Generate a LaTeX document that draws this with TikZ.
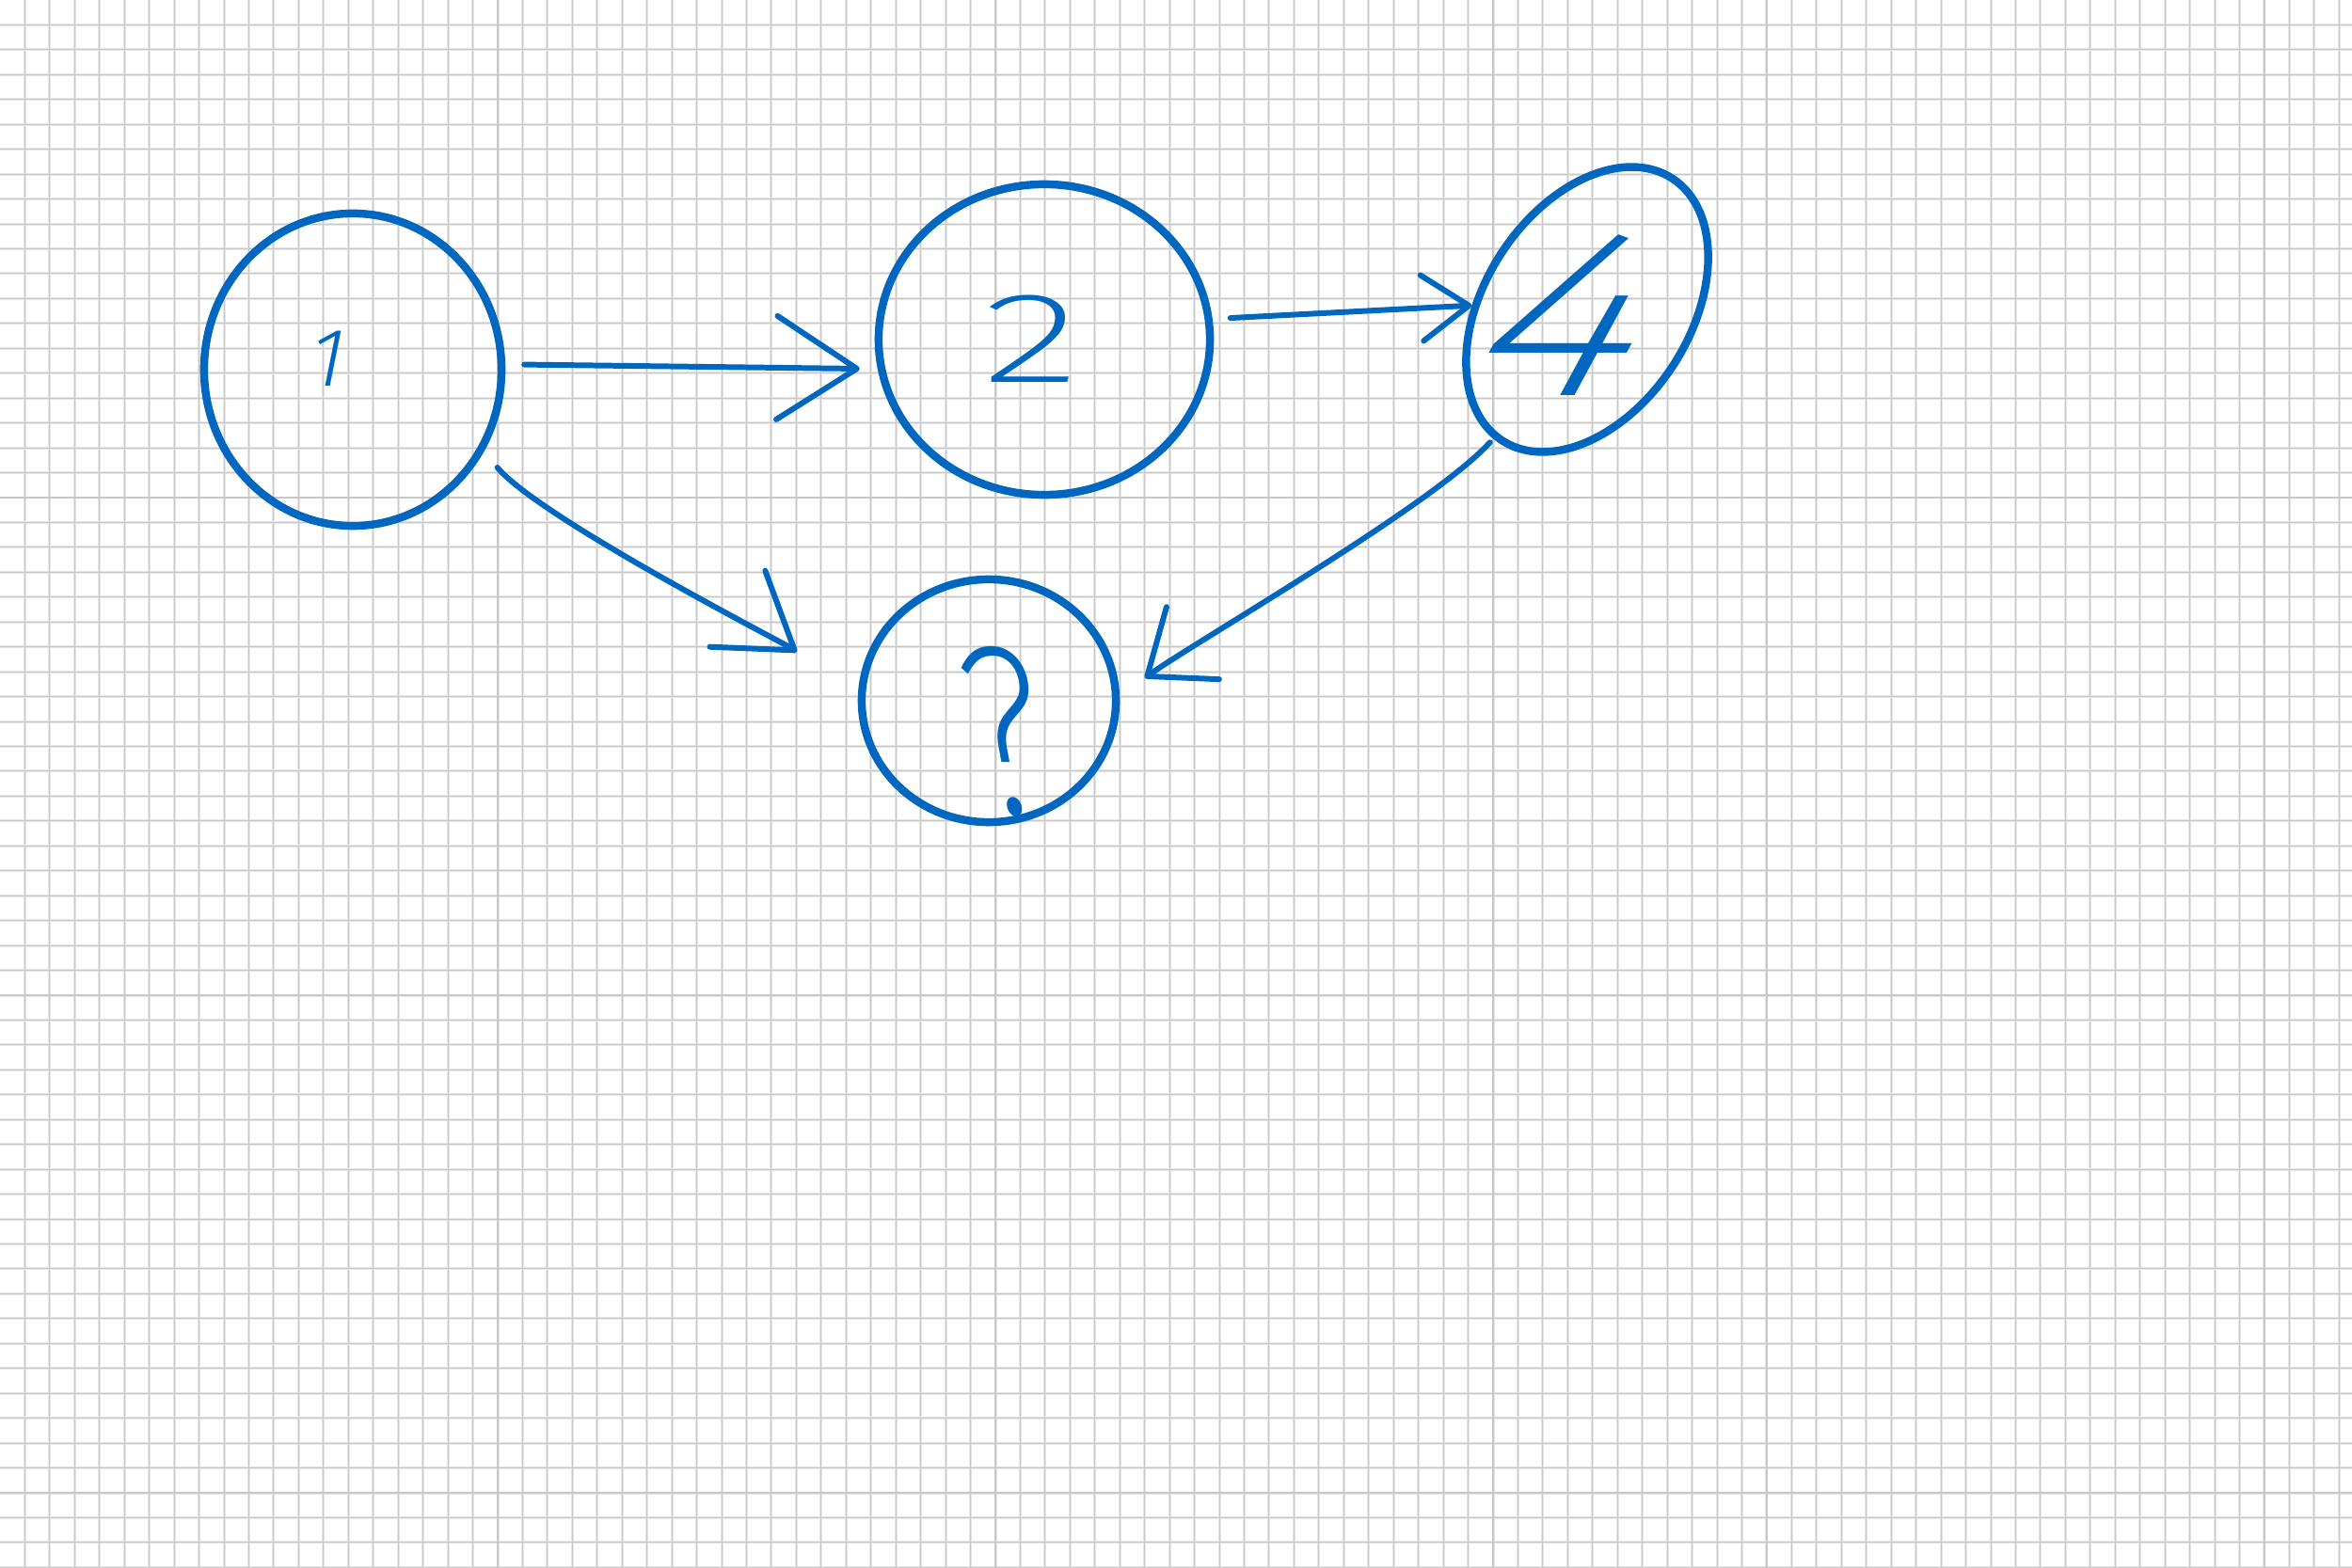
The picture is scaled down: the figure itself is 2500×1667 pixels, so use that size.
\documentclass[tikz,border=0pt]{standalone}
\usepackage{fontspec}
\newcommand\pickhand[3]{\IfFontExistsTF{#2}{\newfontfamily#1{#2}}{\IfFontExistsTF{#3}{\newfontfamily#1{#3}}{\newfontfamily#1{Liberation Sans}}}}
\pickhand\handlight{Fira Sans Light}{Lato Light}
\pickhand\handxlight{Fira Sans ExtraLight}{Fira Sans Light}
\usetikzlibrary{arrows.meta,shapes.geometric}
\definecolor{ink}{RGB}{0,103,192}
\definecolor{gridsoft}{RGB}{230,230,230}
\definecolor{gridcore}{RGB}{200,200,200}
\tikzset{
  gridhalo/.style={draw=gridsoft, line width=0.85pt},
  gridline/.style={draw=gridcore, line width=0.3pt},
  bubble/.style={ellipse, draw=ink, line width=2.4pt, inner sep=0pt},
  digit/.style={text=ink, inner sep=0pt},
  conn/.style={draw=ink, line width=1.7pt, line cap=round, line join=round},
  barbtip/.style 2 args={-{Straight Barb[length=#1,width=#2,round]}},
}
\begin{document}
\begin{tikzpicture}[x=0.01cm,y=-0.01cm]
\useasboundingbox (0,0) rectangle (2500,1667);
\fill[white] (0,0) rectangle (2500,1667);
% grid paper
\foreach \i in {1,...,94} \draw[gridhalo] ({\i*26.45},0) -- ({\i*26.45},1667);
\foreach \j in {1,...,63} \draw[gridhalo] (0,{\j*26.45}) -- (2500,{\j*26.45});
\foreach \i in {1,...,94} \draw[gridline] ({\i*26.45},0) -- ({\i*26.45},1667);
\foreach \j in {1,...,63} \draw[gridline] (0,{\j*26.45}) -- (2500,{\j*26.45});

% nodes
\node[bubble, minimum width=3.16cm, minimum height=3.32cm] (n1) at (375,393) {};
\node[bubble, minimum width=3.52cm, minimum height=3.30cm] (n2) at (1110,361) {};
\node[bubble, minimum width=3.32cm, minimum height=2.18cm, rotate=57] (n4) at (1687,329) {};
\node[bubble, minimum width=2.70cm, minimum height=2.58cm] (n3) at (1051,745) {};

% labels
\node[digit, font={\handlight\fontsize{25pt}{30pt}\selectfont}, xslant=0.2] (t1) at (349,381) {1};
\node[digit, font={\handxlight\fontsize{39pt}{44pt}\selectfont}, xscale=1.6] (t2) at (1096,360) {2};
\node[digit, font={\handxlight\fontsize{72pt}{80pt}\selectfont}, xscale=1.35, xslant=0.4] (t4) at (1676,335) {4};
\node[digit, font={\handxlight\fontsize{73pt}{80pt}\selectfont}, xscale=0.75, xslant=-0.25] (t3) at (1069,778) {?};

% connectors
\draw[conn, barbtip={0.85cm}{1.1cm}, shorten <=0.2cm, shorten >=0.19cm] (n1.2) -- (n2.190);
\draw[conn, barbtip={0.5cm}{0.7cm}, shorten <=0.19cm] (n2.7) -- (n4.121);
\draw[conn, barbtip={0.6cm}{0.95cm}, shorten <=0.05cm, shorten >=0.33cm] (n4.177) to[out=228,in=36,looseness=0.5] (n3.2);
\draw[conn, barbtip={0.75cm}{1.0cm}, shorten <=0.22cm, shorten >=0.8cm] (n1.-32) to[out=-50,in=144,looseness=0.5] (n3.178);
\end{tikzpicture}
\end{document}
